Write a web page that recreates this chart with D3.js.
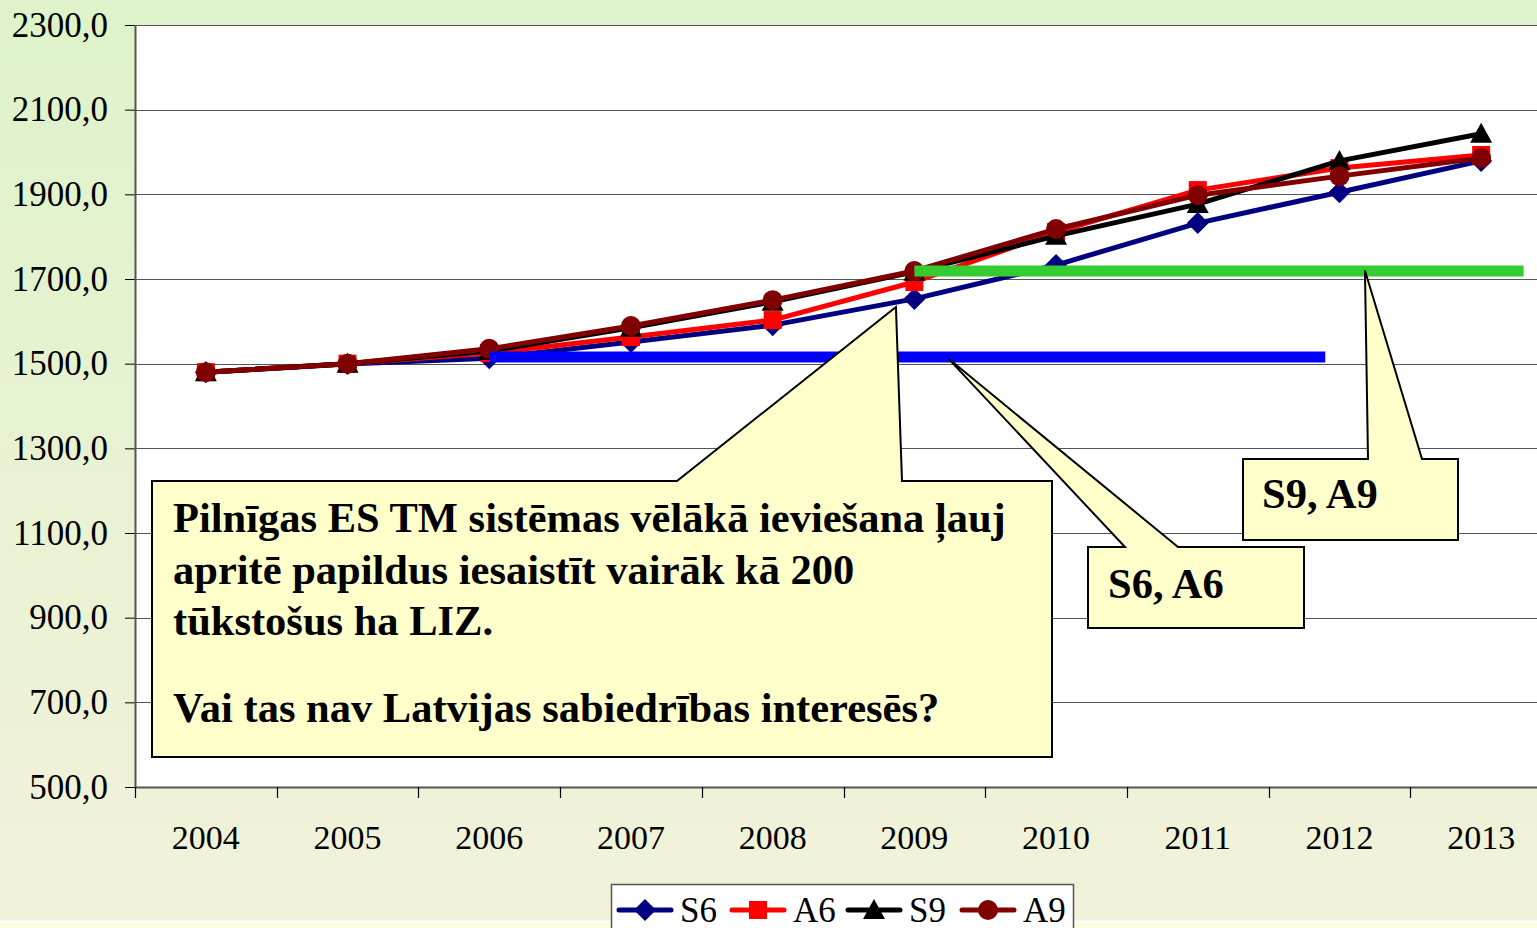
<!DOCTYPE html>
<html>
<head>
<meta charset="utf-8">
<script src="https://cdn.jsdelivr.net/npm/d3@7"></script>
<style>
  html, body { margin: 0; padding: 0; overflow: hidden; }
  svg { display: block; font-family: "Liberation Serif", "Times New Roman", serif; }
</style>
</head>
<body>
<svg width="1537" height="928"></svg>
<script>
// data
const years = ['2004', '2005', '2006', '2007', '2008', '2009', '2010', '2011', '2012', '2013']
const yTicks = [500, 700, 900, 1100, 1300, 1500, 1700, 1900, 2100, 2300]
const s6 = [1480, 1499, 1513, 1551, 1591, 1653, 1733, 1832, 1905, 1979]
const a6 = [1480, 1500, 1525, 1563, 1603, 1693, 1811, 1910, 1962, 1993]
const s9 = [1480, 1500, 1530, 1585, 1646, 1717, 1802, 1877, 1979, 2043]
const a9 = [1480, 1500, 1535, 1589, 1650, 1719, 1818, 1898, 1943, 1986]

// horizontal level lines (value, from/to in category index units)
const levelValues = [1516, 1719]
const levelFrom = [2.0, 5.0]
const levelTo = [7.9, 9.3]
const levelColors = ['#0000ff', '#33cc33']

const series = [
  { name: 'S6', values: s6, color: '#000080', shape: 'diamond' },
  { name: 'A6', values: a6, color: '#ff0000', shape: 'square' },
  { name: 'S9', values: s9, color: '#000000', shape: 'triangle' },
  { name: 'A9', values: a9, color: '#800000', shape: 'circle' }
]

const mainText = [
  'Pilnīgas ES TM sistēmas vēlākā ieviešana ļauj',
  'apritē papildus iesaistīt vairāk kā 200',
  'tūkstošus ha LIZ.',
  'Vai tas nav Latvijas sabiedrības interesēs?'
]
const mainBaselines = [532, 584, 635, 722]

const svg = d3.select('svg')
const W = 1537, H = 928
const mLeft = 135, mTop = 25, plotRight = 1552, mBottom = 787

// background
const defs = svg.append('defs')
const grad = defs.append('linearGradient').attr('id', 'bg').attr('x1', 0).attr('y1', 0).attr('x2', 0).attr('y2', 1)
grad.append('stop').attr('offset', '0%').attr('stop-color', '#def3c9')
grad.append('stop').attr('offset', '60%').attr('stop-color', '#eaf2d4')
grad.append('stop').attr('offset', '100%').attr('stop-color', '#f2f2da')
svg.append('rect').attr('width', W).attr('height', H).attr('fill', 'url(#bg)')
svg.append('rect').attr('x', 0).attr('y', 922).attr('width', W).attr('height', 6).attr('fill', '#fdfde3')
svg.append('line').attr('x1', 0).attr('x2', W).attr('y1', 921.5).attr('y2', 921.5).attr('stroke', '#ffffff').attr('stroke-width', 2)

const x = d3.scaleBand().domain(years).range([mLeft, plotRight])
const xi = d3.scaleLinear().domain([-0.5, years.length - 0.5]).range([mLeft, plotRight])
const y = d3.scaleLinear().domain([500, 2300]).range([mBottom, mTop])
const cx = d => x(d) + x.bandwidth() / 2

svg.append('rect').attr('x', mLeft).attr('y', mTop).attr('width', plotRight - mLeft).attr('height', mBottom - mTop).attr('fill', '#fff')

// grid + y axis
const yAxis = svg.append('g').attr('transform', `translate(${mLeft},0)`)
  .call(d3.axisLeft(y).tickValues(yTicks).tickSize(10).tickPadding(17)
    .tickFormat(d => d3.format('.1f')(d).replace('.', ',')))
yAxis.select('.domain').remove()
yAxis.selectAll('.tick line').attr('stroke', '#000')
yAxis.selectAll('text').attr('font-size', 35).attr('fill', '#000').attr('font-family', '"Liberation Serif", serif')
svg.append('g').selectAll('line').data(yTicks).join('line')
  .attr('x1', mLeft).attr('x2', plotRight).attr('y1', d => Math.round(y(d)) + 0.5).attr('y2', d => Math.round(y(d)) + 0.5)
  .attr('stroke', '#555').attr('stroke-width', 1.2)
svg.append('line').attr('x1', mLeft + 0.5).attr('x2', mLeft + 0.5).attr('y1', mTop).attr('y2', mBottom)
  .attr('stroke', '#555').attr('stroke-width', 2)

// x axis
const xAxis = svg.append('g').attr('transform', `translate(0,${mBottom})`)
  .call(d3.axisBottom(x).tickSize(0).tickPadding(38))
xAxis.select('.domain').attr('stroke', '#555').attr('stroke-width', 2)
xAxis.selectAll('text').attr('font-size', 34).attr('fill', '#000').attr('font-family', '"Liberation Serif", serif')
svg.append('g').selectAll('line').data(d3.range(years.length)).join('line')
  .attr('x1', d => Math.round(xi(d - 0.5)) + 0.5).attr('x2', d => Math.round(xi(d - 0.5)) + 0.5)
  .attr('y1', mBottom).attr('y2', mBottom + 11).attr('stroke', '#000').attr('stroke-width', 1.2)

// marker drawing
function marker(sel, shape, color) {
  if (shape === 'diamond') {
    sel.append('path').attr('d', 'M0,-11L11,0L0,11L-11,0Z').attr('fill', color)
  } else if (shape === 'square') {
    sel.append('rect').attr('x', -9).attr('y', -9).attr('width', 18).attr('height', 18).attr('fill', color)
  } else if (shape === 'triangle') {
    sel.append('path').attr('d', 'M0,-11L11,9L-11,9Z').attr('fill', color)
  } else {
    sel.append('circle').attr('r', 10).attr('fill', color)
  }
}

// series
const line = d3.line().x((d, i) => cx(years[i])).y(d => y(d))
for (const s of series) {
  const g = svg.append('g')
  g.append('path').datum(s.values).attr('d', line).attr('fill', 'none')
    .attr('stroke', s.color).attr('stroke-width', 5).attr('stroke-linejoin', 'round')
  g.selectAll('g').data(s.values).join('g')
    .attr('transform', (d, i) => `translate(${cx(years[i])},${y(d)})`)
    .each(function () { marker(d3.select(this), s.shape, s.color) })
}

// level lines
svg.append('g').selectAll('line').data(levelValues).join('line')
  .attr('x1', (d, i) => xi(levelFrom[i])).attr('x2', (d, i) => xi(levelTo[i]))
  .attr('y1', d => y(d)).attr('y2', d => y(d))
  .attr('stroke', (d, i) => levelColors[i]).attr('stroke-width', 11)

// callouts: box + pointer (tip in data units)
function callout(box, base1, base2, tipIdx, tipVal) {
  const tx = xi(tipIdx), ty = y(tipVal)
  const [bx, by, bw, bh] = box
  const path = d3.path()
  path.moveTo(bx, by)
  path.lineTo(base1, by)
  path.lineTo(tx, ty)
  path.lineTo(base2, by)
  path.lineTo(bx + bw, by)
  path.lineTo(bx + bw, by + bh)
  path.lineTo(bx, by + bh)
  path.closePath()
  svg.append('path').attr('d', path.toString()).attr('fill', '#ffffcc')
    .attr('stroke', '#000').attr('stroke-width', 2).attr('stroke-linejoin', 'miter')
}
callout([152, 481, 900, 276], 677, 902, 4.87, 1634)
callout([1088, 547, 216, 81], 1125, 1178, 5.24, 1512)
callout([1243, 459, 215, 81], 1368, 1422, 8.18, 1720)

const txt = svg.append('g').attr('font-weight', 'bold').attr('font-size', 42.5).attr('fill', '#000')
txt.selectAll('text').data(mainText).join('text')
  .attr('x', 173).attr('y', (d, i) => mainBaselines[i]).text(d => d)
txt.append('text').attr('x', 1108).attr('y', 598).text('S6, A6')
txt.append('text').attr('x', 1262).attr('y', 508).text('S9, A9')

// legend
const lg = svg.append('g')
lg.append('rect').attr('x', 611.5).attr('y', 884.5).attr('width', 462).attr('height', 60)
  .attr('fill', '#fff').attr('stroke', '#555').attr('stroke-width', 1.5)
const legX = [619, 732, 848, 962]
series.forEach((s, i) => {
  const g = lg.append('g').attr('transform', `translate(${legX[i]},910)`)
  g.append('line').attr('x1', 0).attr('x2', 52).attr('stroke', s.color).attr('stroke-width', 5).attr('stroke-linecap', 'round')
  const m = g.append('g').attr('transform', 'translate(26,0)')
  marker(m, s.shape, s.color)
  g.append('text').attr('x', 61).attr('y', 12).attr('font-size', 35).text(s.name)
})
</script>
</body>
</html>
